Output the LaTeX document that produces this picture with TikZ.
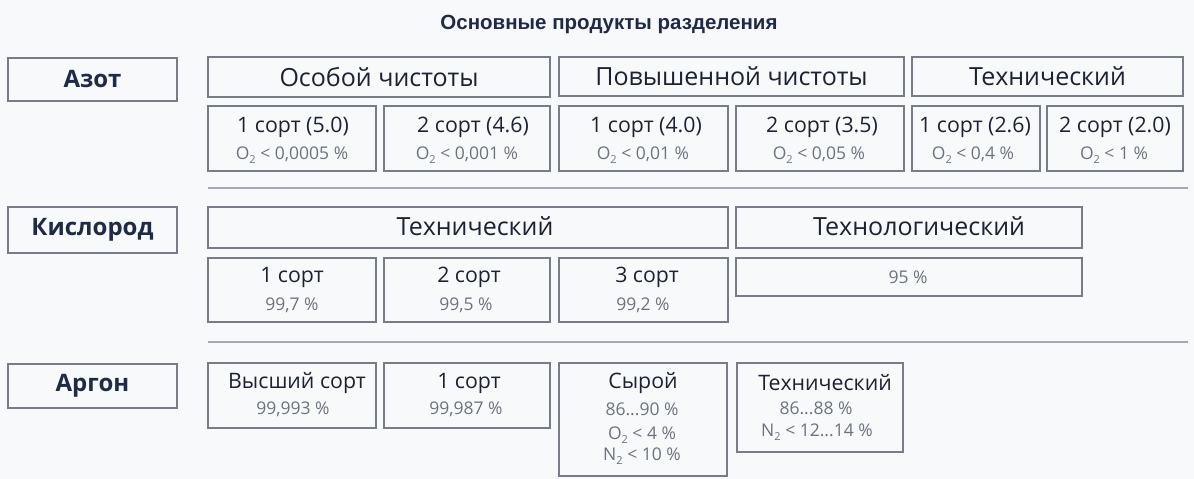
\documentclass[tikz,border=0pt]{standalone}
\usepackage{fontspec}
\setmainfont{Open Sans}
\newfontfamily\titlefont{Liberation Sans}
\definecolor{bgc}{HTML}{F8F9FB}
\definecolor{navy}{HTML}{1E2A47}
\definecolor{boxc}{HTML}{767C88}
\definecolor{linec}{HTML}{A3A8B3}
\definecolor{darkt}{HTML}{1C2233}
\definecolor{grayt}{HTML}{6B7280}
\tikzset{
  box/.style={draw=boxc, line width=1.4pt, anchor=north west, inner sep=0pt, outer sep=0pt},
  cat/.style={font=\fontsize{24}{28}\selectfont\bfseries, text=navy, inner sep=0pt},
  ttl/.style={font=\titlefont\fontsize{20.5}{24}\selectfont\bfseries, text=navy, inner sep=0pt},
  head/.style={font=\fontsize{25}{29}\selectfont, text=darkt, inner sep=0pt},
  sub/.style={font=\fontsize{21.3}{25}\selectfont, text=darkt, inner sep=0pt},
  note/.style={font=\fontsize{17.5}{20}\selectfont, text=grayt, inner sep=0pt},
  notel/.style={font=\fontsize{17.5}{20}\selectfont, text=grayt, inner sep=0pt},
  sep/.style={draw=linec, line width=1.4pt},
}
\newcommand\sbt[1]{\raisebox{-0.45ex}{\fontsize{11}{12}\selectfont #1}\ }
\newcommand\mkbox[5]{\node[box, minimum width={(#4-#2)*1pt}, minimum height={(#5-#3)*1pt}] (#1) at (#2,#3) {};}
\begin{document}
\begin{tikzpicture}[x=1pt,y=-1pt]
\fill[bgc] (0,0) rectangle (1194,479);
\useasboundingbox (0,0) rectangle (1194,479);

\node[ttl, anchor=base] (title) at (609,29) {Основные продукты разделения};

% ---- Азот ----
\mkbox{az}{8}{58}{177}{101}
\node[cat] (azt) at (az.center) {Азот};
\mkbox{osob}{208}{57}{550}{97}
\node[head] (osobt) at (osob.center) {Особой чистоты};
\mkbox{pov}{559}{57}{904}{96}
\node[head] (povt) at (pov.center) {Повышенной чистоты};
\mkbox{tehn}{912}{57}{1183}{96}
\node[head] (tehnt) at (tehn.center) {Технический};

\mkbox{na}{208}{106}{376}{171}
\node[sub] (nat) at (293,127) {1 сорт (5.0)};
\node[note] (nas) at (292,155) {O\sbt{2}< 0,0005 \%};
\mkbox{nb}{384}{106}{550}{171}
\node[sub] (nbt) at (473,127) {2 сорт (4.6)};
\node[note] (nbs) at (467,155) {O\sbt{2}< 0,001 \%};
\mkbox{nc}{559}{106}{728}{171}
\node[sub] (nct) at (646,127) {1 сорт (4.0)};
\node[note] (ncs) at (643,155) {O\sbt{2}< 0,01 \%};
\mkbox{nd}{736}{106}{904}{171}
\node[sub] (ndt) at (822,127) {2 сорт (3.5)};
\node[note] (nds) at (819,155) {O\sbt{2}< 0,05 \%};
\mkbox{ne}{912}{106}{1040}{171}
\node[sub] (net) at (975,127) {1 сорт (2.6)};
\node[note] (nes) at (973,155) {O\sbt{2}< 0,4 \%};
\mkbox{nf}{1047}{106}{1183}{171}
\node[sub] (nft) at (1115,127) {2 сорт (2.0)};
\node[note] (nfs) at (1114,155) {O\sbt{2}< 1 \%};

\coordinate (s1a) at (208,188);
\coordinate (s1b) at (1188,188);
\draw[sep] (s1a) -- (s1b);

% ---- Кислород ----
\mkbox{ox}{8}{207}{177}{253}
\node[cat] (oxt) at (ox.center) {Кислород};
\mkbox{otech}{208}{207}{728}{248}
\node[head] (otecht) at (475,226) {Технический};
\mkbox{otgl}{736}{207}{1082}{248}
\node[head] (otglt) at (919,226) {Технологический};

\mkbox{oa}{208}{258}{376}{322}
\node[sub] (oat) at (292,277) {1 сорт};
\node[notel] (oas) at (292,305) {99,7 \%};
\mkbox{ob}{384}{258}{550}{322}
\node[sub] (obt) at (469,277) {2 сорт};
\node[notel] (obs) at (466,305) {99,5 \%};
\mkbox{oc}{559}{258}{728}{322}
\node[sub] (oct) at (647,277) {3 сорт};
\node[notel] (ocs) at (643,305) {99,2 \%};
\mkbox{od}{736}{258}{1082}{296}
\node[notel] (ods) at (908,277) {95 \%};

\coordinate (s2a) at (208,342);
\coordinate (s2b) at (1188,342);
\draw[sep] (s2a) -- (s2b);

% ---- Аргон ----
\mkbox{ar}{8}{364}{177}{408}
\node[cat] (art) at (ar.center) {Аргон};
\mkbox{aa}{208}{363}{376}{428}
\node[sub] (aat) at (297,383) {Высший сорт};
\node[notel] (aas) at (293,409) {99,993 \%};
\mkbox{ab}{384}{363}{550}{428}
\node[sub] (abt) at (469,383) {1 сорт};
\node[notel] (abs) at (466,409) {99,987 \%};
\mkbox{ac}{559}{363}{727}{476}
\node[sub] (act) at (643,383) {Сырой};
\node[notel] (acs1) at (642,409) {86...90 \%};
\node[notel] (acs2) at (642,435) {O\sbt{2}< 4 \%};
\node[notel] (acs3) at (642,456) {N\sbt{2}< 10 \%};
\mkbox{ad}{737}{363}{903}{452}
\node[sub] (adt) at (825,383) {Технический};
\node[notel] (ads1) at (816,408) {86...88 \%};
\node[notel] (ads2) at (817,432) {N\sbt{2}< 12...14 \%};
\end{tikzpicture}
\end{document}
